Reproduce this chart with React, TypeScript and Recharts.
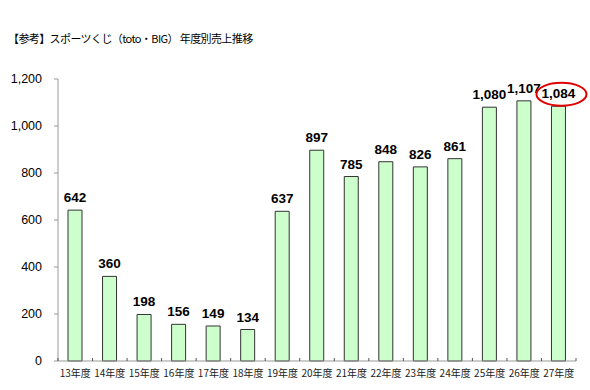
import React from "react";
import { BarChart, Bar, XAxis, YAxis, LabelList } from "recharts";

const categories = ["13年度", "14年度", "15年度", "16年度", "17年度", "18年度", "19年度", "20年度", "21年度", "22年度", "23年度", "24年度", "25年度", "26年度", "27年度"];
const sales = [642, 360, 198, 156, 149, 134, 637, 897, 785, 848, 826, 861, 1080, 1107, 1084];
const yTicks = [0, 200, 400, 600, 800, 1000, 1200];
const title = "【参考】スポーツくじ（toto・BIG） 年度別売上推移";

const data = categories.map((c, i) => ({ name: c, value: sales[i] }));

const W = 590;
const H = 390;
const M = { top: 79, right: 14, bottom: 4, left: 0 };
const YW = 58;
const band = (W - M.left - M.right - YW) / categories.length;

const XTick = (props: any) => {
  const { x, y, payload, index } = props;
  return (
    <g>
      {index === 0 && (
        <line x1={x - band / 2} x2={x - band / 2} y1={y} y2={y - 3} stroke="#555" />
      )}
      <line x1={x + band / 2} x2={x + band / 2} y1={y} y2={y - 3} stroke="#555" />
      <text x={x} y={y + 16} textAnchor="middle" fontSize={10} fill="#222" fontFamily="'Noto Sans CJK JP', sans-serif">
        {payload.value}
      </text>
    </g>
  );
};

const ValueLabel = (props: any) => {
  const { x, y, width, value, index } = props;
  const cx = x + width / 2;
  const txt = Number(value).toLocaleString("en-US");
  return (
    <g>
      <text x={cx} y={y - 8} textAnchor="middle" fontSize={13.5} fontWeight="bold" fill="#000" fontFamily="'Liberation Sans', Arial, sans-serif">
        {txt}
      </text>
      {index === sales.length - 1 && (
        <ellipse cx={cx + 3} cy={y - 12} rx={25} ry={11.5} fill="none" stroke="#e00000" strokeWidth={2} />
      )}
    </g>
  );
};

export default function App() {
  return (
    <div style={{ position: "absolute", left: 0, top: 0, width: W, height: H, background: "#fff" }}>
      <div
        style={{
          position: "absolute",
          left: 8,
          top: 30,
          fontSize: 11,
          lineHeight: "16px",
          letterSpacing: "-0.6px",
          fontFamily: "'Noto Sans CJK JP', sans-serif",
          color: "#000",
          whiteSpace: "nowrap",
        }}
      >
        {title}
      </div>
      <BarChart width={W} height={H} data={data} margin={M} barSize={14}>
        <XAxis
          dataKey="name"
          tickLine={false}
          tickSize={0}
          tickMargin={0}
          axisLine={{ stroke: "#999" }}
          tick={<XTick />}
          interval={0}
          height={25}
        />
        <YAxis
          domain={[0, 1200]}
          ticks={yTicks}
          width={YW}
          tickSize={4}
          tickMargin={12}
          axisLine={{ stroke: "#999" }}
          tickLine={{ stroke: "#999" }}
          tick={{ fontSize: 12.5, fill: "#000", fontFamily: "'Liberation Sans', Arial, sans-serif" }}
          tickFormatter={(v: number) => v.toLocaleString("en-US")}
        />
        <Bar dataKey="value" fill="#ccffcc" stroke="#333" strokeWidth={1} isAnimationActive={false}>
          <LabelList dataKey="value" content={<ValueLabel />} />
        </Bar>
      </BarChart>
    </div>
  );
}
